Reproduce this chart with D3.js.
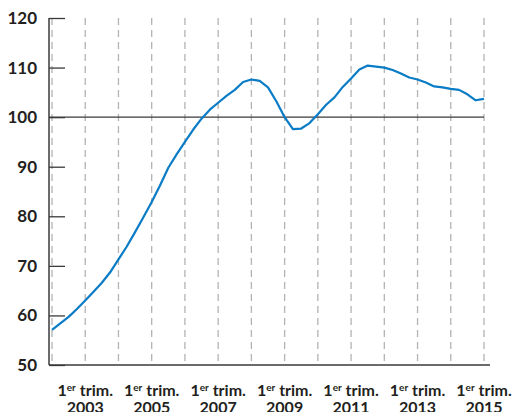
<!DOCTYPE html>
<html>
<head>
<meta charset="utf-8">
<script src="https://cdn.jsdelivr.net/npm/d3@7"></script>
<style>
  body { margin: 0; background: #fff; }
  text { font-family: "Lato", "Open Sans", sans-serif; font-weight: bold; fill: #231f20; }
</style>
</head>
<body>
<svg id="chart"></svg>
<script>
// quarterly index, 1st quarter 2002 to 1st quarter 2015
const startYear = 2002;
const values = [
  57.1, 58.4, 59.7, 61.3,
  63.0, 64.8, 66.6, 68.7,
  71.3, 73.9, 76.8, 79.8,
  82.9, 86.2, 89.8, 92.5,
  95.0, 97.5, 99.7, 101.5,
  102.9, 104.3, 105.5, 107.1,
  107.6, 107.3, 106.0, 103.2,
  100.0, 97.6, 97.7, 98.8,
  100.6, 102.5, 104.0, 106.1,
  107.8, 109.6, 110.4, 110.2,
  110.0, 109.5, 108.8, 108.0,
  107.6, 107.0, 106.2, 106.0,
  105.7, 105.5, 104.6, 103.4,
  103.7
];
const yTicks = [50, 60, 70, 80, 90, 100, 110, 120];
const gridYears = d3.range(2002, 2016);
const labelYears = [2003, 2005, 2007, 2009, 2011, 2013, 2015];

const width = 518, height = 412;
const axisX = 49;

const svg = d3.select('#chart')
    .attr('width', width)
    .attr('height', height);

const x = d3.scaleLinear().domain([2002, 2015]).range([52, 484]);
const y = d3.scaleLinear().domain([50, 120]).range([365, 18]);

const data = values.map((v, i) => ({ t: startYear + i / 4, v: v }));

// dashed year lines
svg.append('g')
  .selectAll('line')
  .data(gridYears)
  .join('line')
    .attr('x1', d => x(d)).attr('x2', d => x(d))
    .attr('y1', y(120)).attr('y2', y(50))
    .attr('stroke', '#b3b3b3')
    .attr('stroke-width', 1.3)
    .attr('stroke-dasharray', '7,5');

// y axis, ticks pointing inward
const yAxis = d3.axisLeft(y)
    .tickValues(yTicks)
    .tickSize(-16)
    .tickPadding(12)
    .tickFormat(d3.format('d'));

const yAxisG = svg.append('g')
    .attr('transform', `translate(${axisX},0)`)
    .call(yAxis);
yAxisG.select('.domain').remove();
yAxisG.selectAll('line').attr('stroke', '#3a3a3a').attr('stroke-width', 1.3);
yAxisG.selectAll('text')
    .attr('font-size', 17)
    .attr('font-family', 'Lato, sans-serif')
    .attr('font-weight', 'bold')
    .attr('fill', '#231f20');

// reference line at 100 and baseline
svg.append('line')
    .attr('x1', axisX).attr('x2', x(2015))
    .attr('y1', y(100)).attr('y2', y(100))
    .attr('stroke', '#3a3a3a').attr('stroke-width', 1.3);

svg.append('line')
    .attr('x1', axisX).attr('x2', 490)
    .attr('y1', y(50)).attr('y2', y(50))
    .attr('stroke', '#3a3a3a').attr('stroke-width', 1.5);

svg.append('line')
    .attr('x1', axisX).attr('x2', axisX)
    .attr('y1', y(120)).attr('y2', y(50))
    .attr('stroke', '#3a3a3a').attr('stroke-width', 1.5);

// series
const line = d3.line()
    .x(d => x(d.t))
    .y(d => y(d.v));

svg.append('path')
    .datum(data)
    .attr('fill', 'none')
    .attr('stroke', '#0a7cc6')
    .attr('stroke-width', 2.2)
    .attr('stroke-linejoin', 'round')
    .attr('d', line);

// x labels
const xl = svg.append('g')
  .selectAll('text')
  .data(labelYears)
  .join('text')
    .attr('x', d => x(d))
    .attr('y', 396)
    .attr('text-anchor', 'middle')
    .attr('font-size', 16);

xl.append('tspan').text('1');
xl.append('tspan').text('er').attr('font-size', 10).attr('dy', -5);
xl.append('tspan').text(' trim.').attr('dy', 5);
xl.append('tspan')
    .attr('x', d => x(d))
    .attr('dy', 17)
    .text(d => d);
</script>
</body>
</html>
